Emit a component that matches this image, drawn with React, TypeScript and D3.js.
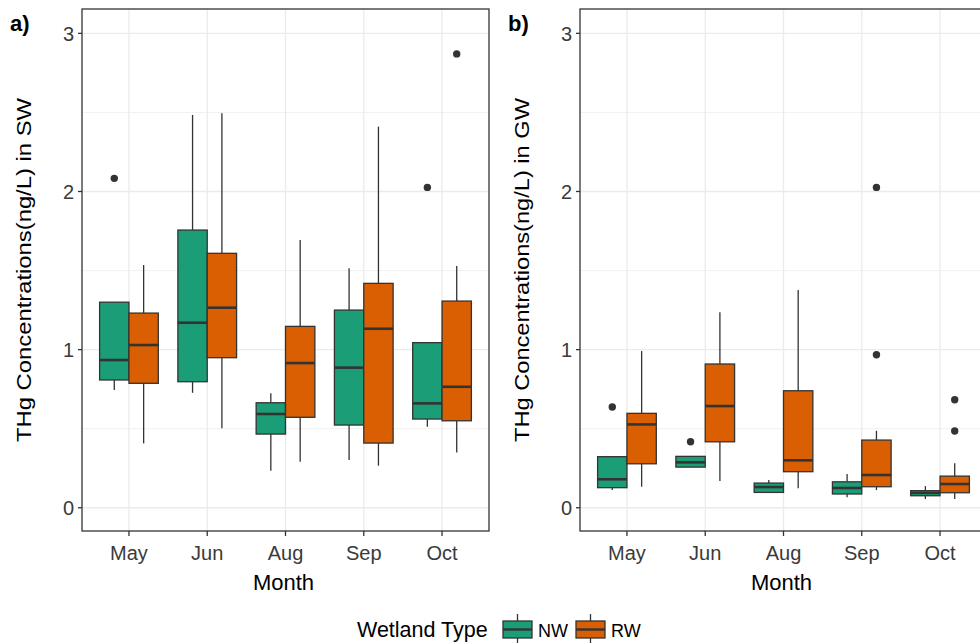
import React from "react";
import * as d3 from "d3";

const months = ["May", "Jun", "Aug", "Sep", "Oct"];
const groups = ["NW", "RW"];
const yTicks = [0, 1, 2, 3];
const yMinor = [0.5, 1.5, 2.5];

// [lowerWhisker, q1, median, q3, upperWhisker]
const swNW = [
  [0.744, 0.808, 0.934, 1.3, 1.3],
  [0.727, 0.797, 1.17, 1.756, 2.484],
  [0.234, 0.466, 0.593, 0.664, 0.724],
  [0.302, 0.523, 0.886, 1.25, 1.514],
  [0.512, 0.561, 0.66, 1.044, 1.044],
];
const swRW = [
  [0.407, 0.787, 1.029, 1.231, 1.535],
  [0.502, 0.949, 1.265, 1.609, 2.494],
  [0.291, 0.572, 0.915, 1.147, 1.693],
  [0.266, 0.409, 1.132, 1.419, 2.41],
  [0.35, 0.55, 0.765, 1.307, 1.529],
];
const swNWOut = [[2.083], [], [], [], [2.026]];
const swRWOut = [[], [], [], [], [2.87]];

const gwNW = [
  [0.112, 0.127, 0.18, 0.323, 0.323],
  [0.257, 0.257, 0.287, 0.325, 0.325],
  [0.097, 0.097, 0.131, 0.156, 0.175],
  [0.066, 0.087, 0.125, 0.164, 0.213],
  [0.055, 0.076, 0.094, 0.108, 0.137],
];
const gwRW = [
  [0.133, 0.278, 0.527, 0.597, 0.991],
  [0.169, 0.417, 0.643, 0.909, 1.236],
  [0.123, 0.228, 0.3, 0.74, 1.377],
  [0.112, 0.133, 0.207, 0.428, 0.487],
  [0.055, 0.095, 0.15, 0.2, 0.281],
];
const gwNWOut = [[0.637], [0.417], [], [], []];
const gwRWOut = [[], [], [], [0.968, 2.026], [0.485, 0.683]];

const colors: Record<string, string> = { NW: "#1B9E77", RW: "#D95F02" };
const INK = "#333333";
const GRID = "#EBEBEB";
const FONT = "'Liberation Sans', Arial, sans-serif";

const TOP = 9;
const BOTTOM = 531;
const PW = 407;

const y = d3.scaleLinear().domain([-0.147, 3.154]).range([BOTTOM, TOP]);

type PanelProps = {
  left: number;
  label: string;
  title: string;
  nw: number[][];
  rw: number[][];
  nwOut: number[][];
  rwOut: number[][];
};

function Panel({ left, label, title, nw, rw, nwOut, rwOut }: PanelProps) {
  const x = d3.scalePoint<string>().domain(months).range([left, left + PW]).padding(0.6);
  const step = x.step();
  const dodge = d3
    .scaleBand<string>()
    .domain(groups)
    .range([-step * 0.375, step * 0.375])
    .padding(0);
  const bw = dodge.bandwidth();
  const series = [
    { g: "NW", s: nw, o: nwOut },
    { g: "RW", s: rw, o: rwOut },
  ];
  return (
    <g>
      <rect x={left} y={TOP} width={PW} height={BOTTOM - TOP} fill="white" />
      {yMinor.map((v) => (
        <line key={"mi" + v} x1={left} x2={left + PW} y1={y(v)} y2={y(v)} stroke={GRID} strokeWidth={0.7} />
      ))}
      {yTicks.map((v) => (
        <line key={"ma" + v} x1={left} x2={left + PW} y1={y(v)} y2={y(v)} stroke={GRID} strokeWidth={1.3} />
      ))}
      {months.map((m) => (
        <line key={"vx" + m} x1={x(m)} x2={x(m)} y1={TOP} y2={BOTTOM} stroke={GRID} strokeWidth={1.3} />
      ))}
      {series.map(({ g, s, o }) =>
        months.map((m, i) => {
          const [lo, q1, med, q3, hi] = s[i];
          const x0 = (x(m) as number) + (dodge(g) as number);
          const cx = x0 + bw / 2;
          return (
            <g key={g + m}>
              <line x1={cx} x2={cx} y1={y(hi)} y2={y(q3)} stroke={INK} strokeWidth={1.3} />
              <line x1={cx} x2={cx} y1={y(q1)} y2={y(lo)} stroke={INK} strokeWidth={1.3} />
              <rect
                x={x0}
                y={y(q3)}
                width={bw}
                height={Math.max(y(q1) - y(q3), 0.5)}
                fill={colors[g]}
                stroke={INK}
                strokeWidth={1.3}
              />
              <line x1={x0} x2={x0 + bw} y1={y(med)} y2={y(med)} stroke={INK} strokeWidth={2.6} />
              {o[i].map((v, k) => (
                <circle key={k} cx={cx} cy={y(v)} r={3.7} fill={INK} />
              ))}
            </g>
          );
        })
      )}
      <rect x={left} y={TOP} width={PW} height={BOTTOM - TOP} fill="none" stroke={INK} strokeWidth={1.3} />
      {yTicks.map((v) => (
        <g key={"yt" + v}>
          <line x1={left - 4} x2={left} y1={y(v)} y2={y(v)} stroke={INK} strokeWidth={1.3} />
          <text x={left - 8} y={y(v)} dy="0.36em" textAnchor="end" fontSize={20} fill="#3A3A3A" fontFamily={FONT}>
            {v}
          </text>
        </g>
      ))}
      {months.map((m) => (
        <g key={"xt" + m}>
          <line x1={x(m)} x2={x(m)} y1={BOTTOM} y2={BOTTOM + 5} stroke={INK} strokeWidth={1.3} />
          <text x={x(m)} y={560} textAnchor="middle" fontSize={20} fill="#3A3A3A" fontFamily={FONT}>
            {m}
          </text>
        </g>
      ))}
      <text x={left + PW / 2 - 2} y={590} textAnchor="middle" fontSize={22} fill="black" fontFamily={FONT}>
        Month
      </text>
      <text
        transform={`translate(${left - 51},270) rotate(-90)`}
        textAnchor="middle"
        fontSize={21}
        fill="black"
        fontFamily={FONT}
        textLength={344}
        lengthAdjust="spacingAndGlyphs"
      >
        {title}
      </text>
      <text x={left - 72} y={31} fontSize={22} fontWeight="bold" fill="black" fontFamily={FONT}>
        {label}
      </text>
    </g>
  );
}

function Legend() {
  const keys = [
    { g: "NW", x: 503, tx: 538 },
    { g: "RW", x: 576, tx: 611 },
  ];
  return (
    <g>
      <text x={357} y={637} fontSize={21.5} fill="black" fontFamily={FONT}>
        Wetland Type
      </text>
      {keys.map((k) => (
        <g key={k.g}>
          <line x1={k.x + 14.5} x2={k.x + 14.5} y1={614} y2={645} stroke={INK} strokeWidth={1.3} />
          <rect x={k.x} y={621} width={29} height={17} fill={colors[k.g]} stroke={INK} strokeWidth={1.3} />
          <line x1={k.x} x2={k.x + 29} y1={629.5} y2={629.5} stroke={INK} strokeWidth={2.4} />
          <text x={k.tx} y={637} fontSize={18} fill="black" fontFamily={FONT}>
            {k.g}
          </text>
        </g>
      ))}
    </g>
  );
}

export default function App() {
  return (
    <svg
      width={980}
      height={643}
      style={{ position: "absolute", left: 0, top: 0, background: "white" }}
    >
      <rect width={980} height={643} fill="white" />
      <Panel left={82} label="a)" title="THg Concentrations(ng/L) in SW" nw={swNW} rw={swRW} nwOut={swNWOut} rwOut={swRWOut} />
      <Panel left={580} label="b)" title="THg Concentrations(ng/L) in GW" nw={gwNW} rw={gwRW} nwOut={gwNWOut} rwOut={gwRWOut} />
      <Legend />
    </svg>
  );
}
